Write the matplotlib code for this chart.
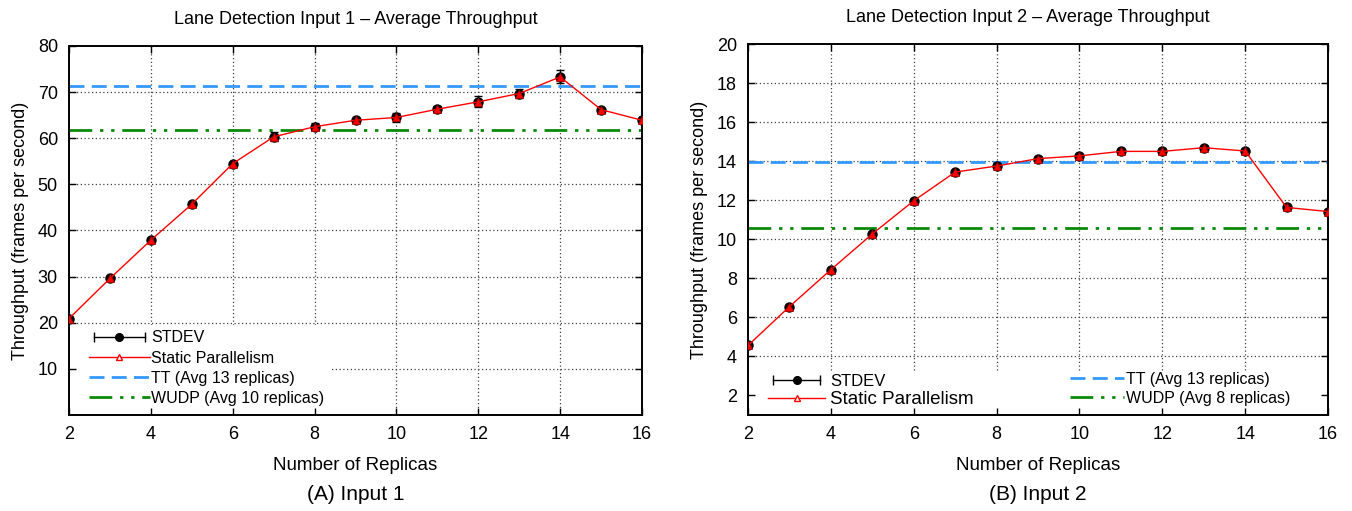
import matplotlib
matplotlib.use("Agg")
import matplotlib.pyplot as plt
from matplotlib.lines import Line2D
from matplotlib.patches import Rectangle
from matplotlib.legend_handler import HandlerLine2D
import numpy as np

plt.rcParams['font.family'] = ['Liberation Sans', 'DejaVu Sans']

# ---------------- data ----------------
replicas = [2, 3, 4, 5, 6, 7, 8, 9, 10, 11, 12, 13, 14, 15, 16]

in1_tput = [20.9, 29.6, 37.9, 45.7, 54.5, 60.3, 62.5, 63.9, 64.5, 66.3, 67.9, 69.7, 73.3, 66.2, 63.9]
in1_std = [0.3, 0.3, 0.3, 0.3, 0.3, 1.0, 0.8, 0.3, 1.0, 0.6, 1.2, 1.0, 1.4, 0.3, 0.3]
in1_tt = 71.4
in1_wudp = 61.8

in2_tput = [4.56, 6.55, 8.44, 10.27, 11.97, 13.44, 13.75, 14.13, 14.27, 14.5, 14.5, 14.69, 14.52, 11.63, 11.42]
in2_std = [0.05, 0.05, 0.05, 0.05, 0.05, 0.08, 0.08, 0.1, 0.1, 0.12, 0.12, 0.1, 0.1, 0.05, 0.05]
in2_tt = 13.94
in2_wudp = 10.6

titles = ["Lane Detection Input 1 \u2013 Average Throughput",
          "Lane Detection Input 2 \u2013 Average Throughput"]
captions = ["(A) Input 1", "(B) Input 2"]
tt_labels = ["TT (Avg 13 replicas)", "TT (Avg 13 replicas)"]
wudp_labels = ["WUDP (Avg 10 replicas)", "WUDP (Avg 8 replicas)"]

xticks = [2, 4, 6, 8, 10, 12, 14, 16]
yticks1 = [10, 20, 30, 40, 50, 60, 70, 80]
yticks2 = [2, 4, 6, 8, 10, 12, 14, 16, 18, 20]

BLUE = '#3399ff'
GREEN = '#0a8a0a'
WUDP_DASH = (8.2, 2.8, 1.2, 2.8, 1.2, 2.8)
TT_DASH = (5.4, 2.6)

fig = plt.figure(figsize=(13.52, 5.11), dpi=100)
ax1 = fig.add_axes([69/1352, 96/511, 573/1352, 369/511])
ax2 = fig.add_axes([748/1352, 96/511, 580/1352, 371/511])


def draw(ax, y, std, tt, wudp, ylim, yticks, title, caption, box_w, box_h, title_x):
    ax.set_xlim(2, 16)
    ax.set_ylim(*ylim)
    ax.set_xticks(xticks)
    ax.set_yticks(yticks)

    # dotted grid
    for xv in xticks[1:-1]:
        ax.axvline(xv, color='0.25', ls=(0, (1, 2)), lw=0.9, zorder=0.5)
    for yv in yticks:
        if yv < ylim[1]:
            ax.axhline(yv, color='0.25', ls=(0, (1, 2)), lw=0.9, zorder=0.5)

    # opaque key box
    ax.add_patch(Rectangle((0, 0), box_w, box_h, transform=ax.transAxes,
                           facecolor='white', edgecolor='none', zorder=1))

    ax.axhline(tt, color=BLUE, lw=2, ls=(0, TT_DASH), zorder=2)
    ax.axhline(wudp, color=GREEN, lw=2, ls=(0, WUDP_DASH), zorder=2)

    ax.errorbar(replicas, y, yerr=std, fmt='o', color='black', ms=6.5,
                capsize=3, elinewidth=1, capthick=1, zorder=3)
    ax.plot(replicas, y, color='red', lw=1, marker='^', ms=6,
            mfc='red', mec='#aa0000', mew=0.6, zorder=4)

    ax.tick_params(direction='in', top=True, right=True, length=5,
                   width=1, labelsize=13, pad=8)
    for s in ax.spines.values():
        s.set_linewidth(1.4)

    t = ax.set_title(title, fontsize=13, pad=16)
    t.set_x(title_x)
    ax.set_xlabel("Number of Replicas", fontsize=13.5, labelpad=10)
    ax.set_ylabel("Throughput (frames per second)", fontsize=13, labelpad=6)
    ax.text(0.5, -79 / (ax.bbox.height), caption, transform=ax.transAxes,
            ha='center', va='center', fontsize=15)

    caps = Line2D([], [], color='black', lw=1, marker='|', ms=7, mew=1)
    dot = Line2D([], [], ls='none', marker='o', color='black', ms=5.5)
    sp = Line2D([], [], color='red', lw=1, marker='^', ms=5, mfc='white', mec='red')
    tl = Line2D([], [], color=BLUE, lw=2, ls=(0, TT_DASH))
    wl = Line2D([], [], color=GREEN, lw=2, ls=(0, WUDP_DASH))
    return (caps, dot), sp, tl, wl, caps


# ---------- Input 1 ----------
stdev, sp, tl, wl, caps = draw(ax1, in1_tput, in1_std, in1_tt, in1_wudp, (0, 80),
                               yticks1, titles[0], captions[0], 261/573, 90/369, 0.5)
leg = ax1.legend([stdev, sp, tl, wl],
                 ["STDEV", "Static Parallelism", tt_labels[0], wudp_labels[0]],
                 handler_map={caps: HandlerLine2D(numpoints=2)},
                 loc='lower left', bbox_to_anchor=(0.035, 0.025), frameon=False,
                 borderpad=0, borderaxespad=0, handlelength=3.8, handletextpad=0.1,
                 labelspacing=0.32, fontsize=11.5, numpoints=1)
leg.set_zorder(5)

# ---------- Input 2 ----------
stdev, sp, tl, wl, caps = draw(ax2, in2_tput, in2_std, in2_tt, in2_wudp, (1, 20),
                               yticks2, titles[1], captions[1], 1.0, 43/371, 0.483)
leg_a = ax2.legend([stdev, sp], ["STDEV", "Static Parallelism"],
                   handler_map={caps: HandlerLine2D(numpoints=2)},
                   loc='lower left', bbox_to_anchor=(0.035, 0.02), frameon=False,
                   borderpad=0, borderaxespad=0, handlelength=3.4, handletextpad=0.3,
                   labelspacing=0.1, fontsize=12, numpoints=1)
leg_a.get_texts()[1].set_fontsize(13.5)
leg_a.set_zorder(5)
ax2.add_artist(leg_a)
leg_b = ax2.legend([tl, wl], [tt_labels[1], wudp_labels[1]],
                   loc='lower left', bbox_to_anchor=(0.555, 0.025), frameon=False,
                   borderpad=0, borderaxespad=0, handlelength=3.4, handletextpad=0.1,
                   labelspacing=0.25, fontsize=11.5)
leg_b.set_zorder(5)

fig.savefig("out.png", dpi=100)
